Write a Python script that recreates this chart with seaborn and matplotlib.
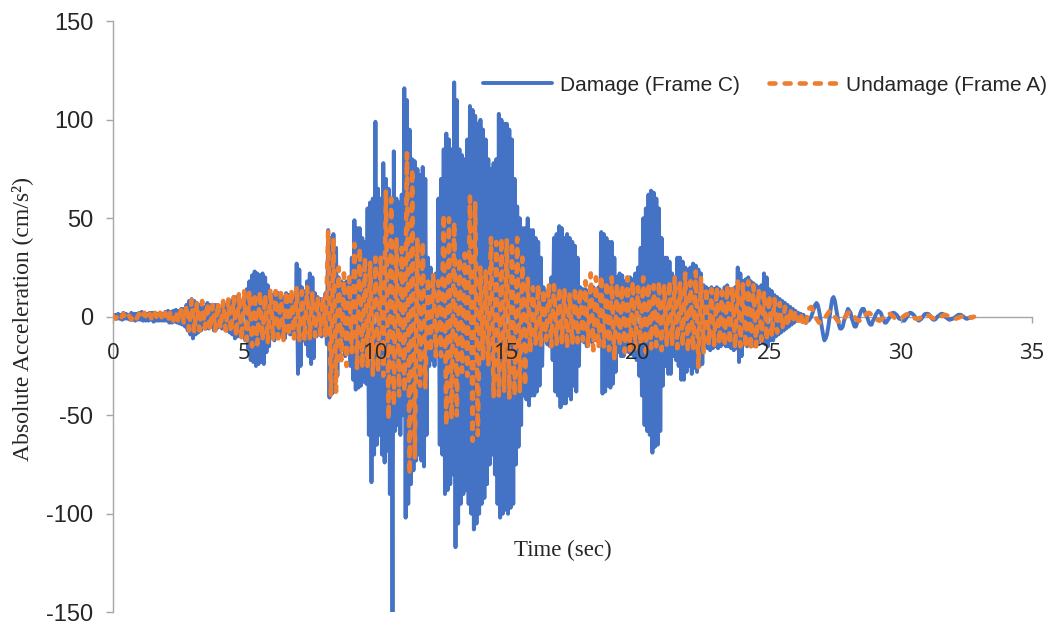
import numpy as np
import pandas as pd
import matplotlib
matplotlib.use("Agg")
import matplotlib.pyplot as plt
import seaborn as sns

# Absolute acceleration, one row per second.
# Damage (Frame C): a peak every 0.05 s; Undamage (Frame A): a peak every 0.1 s
damage_step = 0.05
undamage_step = 0.1

damage_frame_c = [
    [0.5, -0.5, 1, -1, 1.5, -1, 1, -1.5, 2, -1, 1.5, -1, 1, -1.5, 2, -1.5, 1.5, -2, 1.5, -1.5],
    [2, -1.5, 2.5, -2, 2, -2, 1.5, -2, 2, -1.5, 2, -2.5, 2, -2, 1.5, -2, 2, -2, 1.5, -2],
    [2.5, -2, 3, -3, 2.5, -3, 3, -2.5, 3.5, -3, 3, -3.5, 4, -4, 4, -5, 6, -7, 8, -9],
    [9, -11, 8, -9, 7, -8, 6, -7, 6, -5, 5, -6, 7, -6, 6, -5, 5, -7, 6, -6],
    [6, -5, 5, -6, 7, -6, 6, -7, 8, -8, 8, -9, 10, -11, 10, -10, 9, -8, 8, -9],
    [10, -12, 14, -16, 18, -22, 21, -23, 23, -25, 22, -24, 21, -23, 22, -24, 20, -18, 16, -15],
    [12, -10, 11, -12, 13, -9, 12, -10, 11, -10, 10, -11, 12, -8, 11, -9, 10, -9, 9, -10],
    [27, -29, 24, -25, 15, -12, 13, -14, 18, -20, 22, -24, 20, -21, 12, -10, 10, -9, 9, -10],
    [9, -8, 12, -14, 44, -41, 40, -39, 42, -38, 35, -30, 20, -18, 18, -17, 17, -20, 18, -16],
    [20, -25, 30, -32, 49, -37, 45, -36, 45, -35, 40, -33, 38, -34, 55, -60, 58, -84, 60, -70],
    [99, -65, 65, -60, 60, -70, 78, -74, 70, -68, 65, -90, 60, -150, 84, -58, 60, -55, 58, -60],
    [62, -50, 116, -102, 110, -95, 95, -85, 80, -78, 79, -73, 75, -70, 72, -73, 76, -76, 70, -60],
    [30, -25, 25, -22, 20, -25, 22, -20, 60, -65, 70, -70, 85, -90, 93, -88, 90, -85, 85, -80],
    [119, -117, 110, -105, 85, -95, 82, -90, 80, -88, 90, -95, 107, -100, 105, -108, 102, -105, 98, -100],
    [100, -95, 95, -92, 90, -85, 80, -75, 75, -70, 78, -80, 80, -95, 103, -102, 100, -100, 98, -98],
    [98, -100, 95, -97, 90, -95, 70, -75, 56, -66, 50, -55, 45, -40, 45, -42, 50, -45, 44, -40],
    [44, -40, 40, -38, 38, -35, 30, -25, 15, -12, 12, -14, 14, -15, 20, -22, 40, -38, 42, -40],
    [46, -46, 45, -44, 40, -44, 42, -40, 40, -42, 38, -35, 36, -38, 30, -25, 15, -12, 14, -13],
    [14, -15, 13, -12, 12, -13, 15, -12, 14, -12, 15, -14, 43, -39, 42, -38, 40, -35, 38, -36],
    [38, -34, 30, -28, 20, -18, 22, -20, 21, -20, 18, -17, 20, -18, 20, -19, 19, -20, 22, -22],
    [25, -30, 35, -40, 50, -55, 55, -58, 62, -60, 64, -69, 63, -66, 60, -65, 55, -58, 40, -35],
    [30, -25, 30, -29, 28, -29, 22, -20, 20, -22, 30, -25, 30, -32, 28, -32, 25, -28, 24, -25],
    [25, -29, 27, -26, 26, -28, 24, -25, 22, -24, 16, -15, 15, -16, 14, -17, 15, -16, 14, -15],
    [15, -16, 14, -15, 13, -14, 15, -15, 16, -15, 14, -16, 14, -17, 15, -16, 25, -23, 22, -20],
    [18, -14, 19, -15, 20, -13, 18, -14, 17, -15, 16, -14, 15, -12, 16, -13, 22, -14, 20, -15],
    [14, -12, 13, -12, 11, -10, 10, -9, 9, -8, 8, -7, 7, -6, 6, -5, 5, -4, 4, -3],
    [3, -2, 2, -2, 1.5, -1, 1, -1, 0, -1, -2, -1, 0, 2, 4, 6, 7, 6, 3, -1],
    [-5, -9, -12, -11, -9, -5, 0, 5, 9, 10, 8, 4, 0, -4, -6, -6, -5, -2, 0, 2],
    [4, 3, 2, -1, -3, -5, -5, -3, -1, 1, 3, 4, 4, 2, 1, -1, -3, -4, -4, -2],
    [-1, 1, 2, 3, 2.5, 2, 0, -1, -3, -3, -2, -1, 0, 1, 2, 2, 1.5, 1, 0, -1],
    [-1, -1.5, -2, -2, -1, 0, 1, 2, 2, 1.5, 1, 0, -1, -1.5, -2, -1.5, -1, 0, 1, 1.5],
    [1.5, 1.5, 1, 0, -1, -1.5, -1.5, -1, 0, 0.5, 1, 1.5, 1.5, 1, 0, -0.5, -1, -1.5, -1.5, -1],
    [-1, -0.5, 0, 0.5, 1, 1, 1, 0.5, 0, -0.5, -1, -1, -0.5, -0.5, 0, 0],
]

undamage_frame_a = [
    [0.5, -1, 1, -1, 1.5, -1, 1, -1.5, 1, -1],
    [1.5, -1, 2, -1.5, 1.5, -2, 2, -1.5, 2, -2],
    [2, -2.5, 3, -2, 2.5, -3, 4, -3, 6, -7],
    [8.5, -8, 7, -7, 8, -6, 7, -7, 6, -7],
    [7, -6, 8, -7, 9, -8, 10, -10, 12, -12],
    [13.5, -12, 13, -15, 12, -14, 13, -12, 11, -13],
    [14, -12, 13, -11, 12, -12, 13, -10, 14, -11],
    [15, -12, 13, -12, 15, -11, 12, -10, 10, -9],
    [10, -10, 44, -40, 40, -38, 25, -22, 22, -25],
    [20, -18, 37, -27, 35, -26, 30, -25, 28, -30],
    [30, -28, 30, -30, 64, -52, 60, -45, 40, -40],
    [35, -38, 83, -80, 75, -72, 40, -35, 38, -36],
    [20, -18, 22, -20, 18, -20, 52, -55, 50, -52],
    [48, -50, 30, -28, 32, -30, 61, -63, 58, -60],
    [25, -22, 24, -25, 40, -41, 38, -40, 40, -38],
    [39, -41, 38, -40, 40, -38, 30, -35, 20, -18],
    [15, -14, 16, -15, 14, -12, 17, -15, 16, -14],
    [15, -13, 14, -16, 12, -14, 15, -13, 14, -12],
    [18, -15, 22, -17, 20, -16, 21, -15, 18, -17],
    [20, -22, 17, -15, 16, -18, 20, -17, 18, -16],
    [15, -14, 20, -18, 17, -16, 16, -15, 18, -17],
    [16, -15, 18, -14, 20, -16, 17, -15, 22, -18],
    [18, -17, 23, -26, 20, -18, 15, -14, 14, -15],
    [15, -14, 13, -15, 16, -14, 15, -16, 18, -15],
    [17, -16, 18, -17, 16, -15, 14, -12, 13, -12],
    [11, -10, 9, -8, 7, -6, 5, -5, 4, -3],
    [3, -2, 2, -5, -3, 4, 5, 2, -1, -3],
    [-3, -1, 1, 3, 2, 0, -2, -3, -2, 0],
    [2, 2.5, 1, -1, -2, -2, 0, 1.5, 2, 1],
    [-0.5, -1.5, -2, -1, 0.5, 1.5, 1.5, 0.5, -1, -1.5],
    [-1, 0, 1, 1.5, 1, -0.5, -1, -1, 0, 1],
    [1, 0.5, -0.5, -1, -1, 0, 0.5, 1, 0.5, 0],
    [-0.5, -1, -0.5, 0, 0.5, 0.5, 0, -0.5, 0],
]

series_labels = ["Damage (Frame C)", "Undamage (Frame A)"]
x_ticks = [0, 5, 10, 15, 20, 25, 30, 35]
y_ticks = [-150, -100, -50, 0, 50, 100, 150]

BLUE = "#4472C4"
ORANGE = "#ED7D31"
GRAY = "#A6A6A6"


def to_frame(rows, step):
    acc = np.concatenate([np.asarray(r, dtype=float) for r in rows])
    return pd.DataFrame({"time": np.arange(len(acc)) * step, "acc": acc})


sns.set_theme(style="white")
plt.rcParams["font.family"] = ["Liberation Sans", "DejaVu Sans"]
plt.rcParams["axes.unicode_minus"] = False

fig = plt.figure(figsize=(10.55, 6.26), dpi=100)
ax = fig.add_axes([0.107, 0.022, 0.871, 0.944])

dmg = to_frame(damage_frame_c, damage_step)
und = to_frame(undamage_frame_a, undamage_step)

sns.lineplot(data=dmg, x="time", y="acc", ax=ax, color=BLUE, linewidth=2.8,
             estimator=None, sort=False, label=series_labels[0], zorder=2)
sns.lineplot(data=und, x="time", y="acc", ax=ax, color=ORANGE, linewidth=3.3,
             estimator=None, sort=False, label=series_labels[1], zorder=3,
             linestyle=(0, (1.3, 2.0)), dash_capstyle="round")

ax.set_xlim(0, 35)
ax.set_ylim(-150, 150)
ax.set_xticks(x_ticks)
ax.set_yticks(y_ticks)

for side in ["top", "right"]:
    ax.spines[side].set_visible(False)
ax.spines["bottom"].set_position(("data", 0))
ax.spines["bottom"].set_zorder(1)
for side in ["left", "bottom"]:
    ax.spines[side].set_color(GRAY)
    ax.spines[side].set_linewidth(1.0)

ax.tick_params(axis="y", direction="out", length=5, width=1, color=GRAY,
               pad=9, labelsize=17, left=True)
ax.tick_params(axis="x", direction="out", length=4, width=1, color=GRAY,
               pad=15, labelsize=16, bottom=True)
for lbl in ax.get_xticklabels():
    lbl.set_fontfamily(["Open Sans", "DejaVu Sans"])
# tick labels sit on top of the traces, as in the original
ax.xaxis.set_zorder(5)

ax.set_xlabel("Time (sec)", fontfamily="Liberation Serif", fontsize=16.5)
ax.set_ylabel("Absolute Acceleration (cm/s²)", fontfamily="Liberation Serif", fontsize=17)
ax.xaxis.set_label_coords(0.49, 0.123)
ax.yaxis.set_label_coords(-0.087, 0.497)

ax.get_legend().remove()
handles = ax.get_lines()[:2]
fig.legend(handles, series_labels, loc="center", bbox_to_anchor=(0.725, 0.864),
           ncol=2, frameon=False, fontsize=15, handlelength=3.3,
           handletextpad=0.4, columnspacing=1.4, borderpad=0)

fig.savefig("out.png", dpi=100)
plt.close(fig)
